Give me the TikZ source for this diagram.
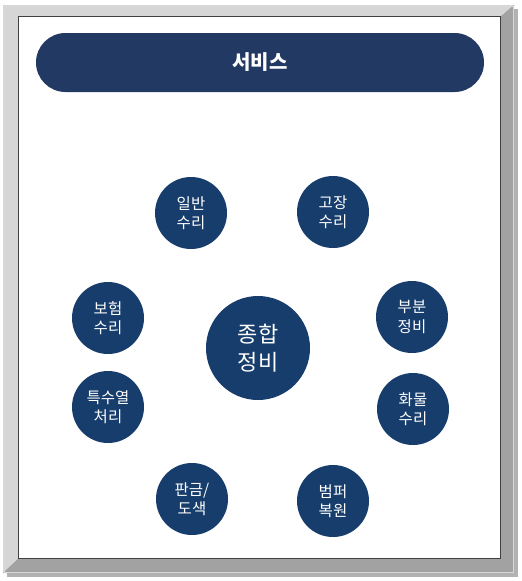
\documentclass[tikz,border=0pt]{standalone}
\usepackage{fontspec}
\newfontfamily\kr{Noto Sans CJK KR}
\definecolor{headnavy}{HTML}{213963}
\definecolor{circnavy}{HTML}{173D6C}
\definecolor{framelight}{HTML}{D6D6D6}
\definecolor{framemid}{HTML}{BDBDBD}
\definecolor{framedark}{HTML}{A2A2A2}
\begin{document}
\begin{tikzpicture}[x=1pt,y=-1pt,
  header/.style={rectangle, rounded corners=29.5pt, fill=headnavy, text=white,
    minimum width=448pt, minimum height=59pt, inner sep=0pt,
    font=\kr\bfseries\fontsize{20}{24}\selectfont},
  small/.style={circle, fill=circnavy, text=white, minimum size=72pt, inner sep=0pt,
    align=center, font=\kr\fontsize{15.5}{19.5}\selectfont},
  big/.style={circle, fill=circnavy, text=white, minimum size=104pt, inner sep=0pt,
    align=center, font=\kr\fontsize{22}{28}\selectfont}]
\useasboundingbox (0,0) rectangle (522,581);
\fill[white] (0,0) rectangle (522,581);
% frame shadow
\fill[black!30] (7,9) rectangle (518,577);
% frame
\fill[framemid] (3,5) rectangle (514,573);
\fill[framelight] (3,5) -- (514,5) -- (500,17) -- (19,17) -- (19,558) -- (3,573) -- cycle;
\fill[framedark] (514,5) -- (514,573) -- (3,573) -- (19,558) -- (500,558) -- (500,17) -- cycle;
\draw[black!15, line width=1pt] (4,6) rectangle (513,572);
\fill[white] (19,17) rectangle (500,558);
\draw[black!75, line width=0.6pt] (18.7,16.7) rectangle (500.3,558.3);
% header
\node[header] (title) at (260,62.5) {서비스};
% center
\node[big] (center) at (258,348) {종합\\정비};
% surrounding circles
\node[small] (ilban) at (191,213) {일반\\수리};
\node[small] (gojang) at (333,212) {고장\\수리};
\node[small] (boheom) at (108,318) {보험\\수리};
\node[small] (bubun) at (412,317) {부분\\정비};
\node[small] (teuksu) at (108,407) {특수열\\처리};
\node[small] (hwamul) at (413,409) {화물\\수리};
\node[small] (pangeum) at (192,499) {판금/\\도색};
\node[small] (beompeo) at (333,501) {범퍼\\복원};
\end{tikzpicture}
\end{document}
